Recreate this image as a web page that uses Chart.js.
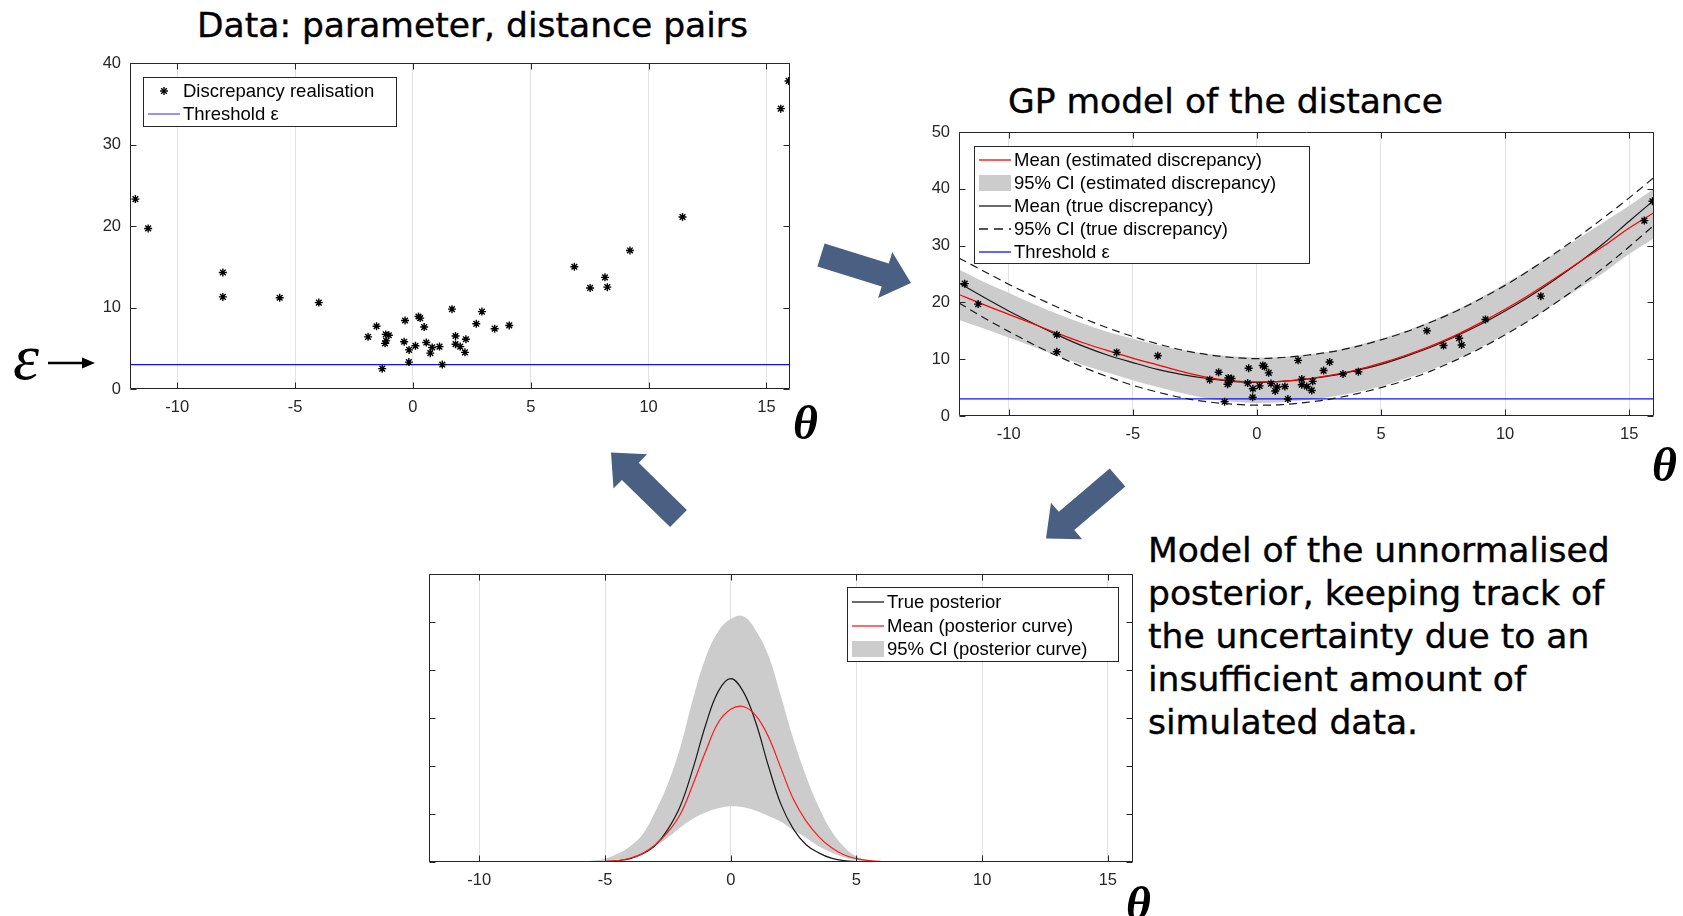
<!DOCTYPE html>
<html>
<head>
<meta charset="utf-8">
<script src="https://cdn.jsdelivr.net/npm/chart.js@4.4.1/dist/chart.umd.min.js"></script>
<style>
  html, body { margin: 0; padding: 0; background: #fff; }
  body { width: 1683px; height: 916px; position: relative; overflow: hidden; }
  .plot { position: absolute; }
  .heading { position: absolute; font-family: "DejaVu Sans", sans-serif; font-size: 34.5px; line-height: 43px; color: #000; white-space: nowrap; -webkit-text-stroke: 0.4px #000; }
  .para { position: absolute; font-family: "DejaVu Sans", sans-serif; font-size: 34.5px; line-height: 42.9px; color: #000; white-space: nowrap; -webkit-text-stroke: 0.4px #000; }
  .theta { position: absolute; font-family: "Liberation Serif", serif; font-style: italic; font-weight: bold; font-size: 48px; line-height: 48px; }
  .eps { position: absolute; font-family: "Liberation Serif", serif; font-style: italic; font-size: 66px; line-height: 66px; }
  .legend { position: absolute; box-sizing: border-box; background: #fff; border: 1px solid #262626;
            font-family: "Liberation Sans", Arial, sans-serif; font-size: 18.5px; color: #000; }
  .legend .row { position: absolute; left: 0; right: 0; height: 22px; }
  .legend .row span { position: absolute; left: 39px; top: 0; line-height: 22px; white-space: nowrap; }
  #overlay { position: absolute; left: 0; top: 0; pointer-events: none; }
</style>
</head>
<body>

<div class="heading" style="left:197px; top:4px;">Data: parameter, distance pairs</div>
<div class="heading" style="left:1008px; top:80px;">GP model of the distance</div>
<div class="para" style="left:1148px; top:529px;">Model of the unnormalised<br>posterior, keeping track of<br>the uncertainty due to an<br>insufficient amount of<br>simulated data.</div>

<div class="plot" style="left:70px; top:53px;"><canvas id="dataChart" width="730" height="376"></canvas></div>
<div class="plot" style="left:899px; top:122px;"><canvas id="gpChart" width="765" height="334"></canvas></div>
<div class="plot" style="left:369px; top:564px;"><canvas id="postChart" width="774" height="338"></canvas></div>

<div class="eps" style="left:13px; top:324px;">ε</div>
<div class="theta" style="left:793px; top:399px;">θ</div>
<div class="theta" style="left:1652px; top:441px;">θ</div>
<div class="theta" style="left:1126px; top:880px;">θ</div>

<svg id="overlay" width="1683" height="916"></svg>

<script>
// ---- data ----
const xMin = -12, xMax = 16;
const xTicks = [-10, -5, 0, 5, 10, 15];
const threshold = 3;

// simulated (theta, discrepancy) pairs
const obsTheta = [-11.77, -11.23, -8.06, -8.06, -5.65, -3.99, -1.90, -1.54, -1.30, -1.15, -1.02, -1.18, -1.13,
  -0.37, -0.33, -0.16, -0.17, 0.11, 0.24, 0.31, 0.48, 0.57, 0.74, 0.82, 1.13, 1.25, 1.66, 1.81, 1.81,
  2.01, 2.21, 2.25, 2.69, 2.93, 3.47, 4.09, 6.85, 7.52, 8.15, 8.25, 9.21, 11.44, 15.61, 15.94];
const obsDist = [23.3, 19.7, 14.3, 11.3, 11.2, 10.6, 6.4, 7.7, 2.5, 6.7, 6.6, 5.6, 5.9,
  5.8, 8.4, 4.8, 3.3, 5.3, 8.9, 8.7, 7.6, 5.7, 4.4, 5.1, 5.2, 3.0, 9.8, 6.5, 5.5,
  5.2, 4.5, 6.1, 8.0, 9.5, 7.4, 7.8, 15.0, 12.4, 13.7, 12.5, 17.0, 21.1, 34.4, 37.8];
const distTicks1 = [0, 10, 20, 30, 40];

// GP model of the distance
const gpTheta = [-12, -11, -10, -9, -8, -7, -6, -5, -4, -3, -2, -1, 0, 1, 2, 3, 4, 5, 6, 7, 8, 9, 10, 11, 12, 13, 14, 15, 16];
const estMean = [21.4, 19.6, 17.9, 16.2, 14.5, 12.9, 11.5, 10.2, 9.0, 7.8, 6.8, 6.2, 6.0, 6.1, 6.5, 7.2, 8.1, 9.3, 10.7, 12.3, 14.2, 16.4, 18.8, 21.4, 24.2, 27.1, 30.0, 33.1, 35.8];
const estUpper = [25.8, 23.6, 21.7, 19.7, 17.9, 16.3, 14.8, 13.6, 12.5, 11.6, 10.9, 10.5, 10.3, 10.4, 10.8, 11.4, 12.4, 13.6, 15.0, 16.7, 18.6, 20.8, 23.3, 25.9, 28.6, 31.4, 34.2, 37.0, 40.0];
const estLower = [16.9, 15.4, 13.8, 12.2, 10.5, 9.0, 7.6, 6.3, 5.1, 4.0, 3.1, 2.5, 2.3, 2.4, 2.8, 3.4, 4.2, 5.2, 6.6, 8.1, 9.9, 12.0, 14.4, 16.9, 19.7, 22.5, 25.3, 28.5, 31.3];
const trueMean = [23.4, 20.9, 18.5, 16.3, 14.2, 12.3, 10.7, 9.4, 8.2, 7.3, 6.6, 6.1, 5.9, 6.1, 6.5, 7.1, 8.0, 9.1, 10.5, 12.1, 14.0, 16.1, 18.5, 21.1, 24.0, 27.1, 30.5, 34.3, 38.0];
const trueUpper = [27.8, 25.5, 23.2, 21.1, 19.1, 17.2, 15.5, 14.0, 12.7, 11.6, 10.8, 10.3, 10.1, 10.3, 10.7, 11.3, 12.2, 13.4, 14.8, 16.5, 18.4, 20.6, 23.0, 25.7, 28.6, 31.7, 35.0, 38.4, 42.0];
const trueLower = [19.9, 17.3, 14.9, 12.6, 10.5, 8.6, 6.9, 5.4, 4.2, 3.2, 2.5, 2.1, 1.9, 2.0, 2.4, 3.0, 3.9, 5.0, 6.3, 7.9, 9.8, 11.9, 14.3, 16.9, 19.8, 22.9, 26.2, 29.8, 33.6];
const distTicks2 = [0, 10, 20, 30, 40, 50];

// unnormalised posterior
const postTheta = [-12, -6, -5.5, -5, -4.5, -4, -3.5, -3, -2.5, -2, -1.5, -1, -0.5, 0, 0.5, 1, 1.5, 2, 2.5, 3, 3.5, 4, 4.5, 5, 5.5, 6, 6.5, 16];
const postUpper = [0, 0.01, 0.03, 0.07, 0.17, 0.33, 0.58, 1.05, 1.63, 2.4, 3.4, 4.25, 4.8, 5.06, 5.12, 4.82, 4.3, 3.45, 2.55, 1.78, 1.15, 0.65, 0.32, 0.12, 0.04, 0.01, 0, 0];
const postLower = [0, 0, 0.01, 0.02, 0.05, 0.1, 0.19, 0.33, 0.51, 0.72, 0.9, 1.03, 1.12, 1.16, 1.14, 1.07, 0.96, 0.84, 0.66, 0.5, 0.33, 0.2, 0.1, 0.04, 0.01, 0, 0, 0];
const postTrue = [0, 0, 0, 0.01, 0.03, 0.07, 0.17, 0.35, 0.68, 1.17, 1.95, 2.85, 3.55, 3.82, 3.55, 2.9, 2.0, 1.2, 0.68, 0.36, 0.19, 0.08, 0.03, 0.01, 0, 0, 0, 0];
const postMean = [0, 0, 0, 0.01, 0.03, 0.08, 0.18, 0.36, 0.62, 1.0, 1.62, 2.3, 2.9, 3.18, 3.24, 3.05, 2.61, 1.95, 1.3, 0.85, 0.53, 0.3, 0.15, 0.07, 0.03, 0.01, 0, 0];
const postTicks = [0, 1, 2, 3, 4, 5, 6];

// ---- helpers ----
const pts = (xs, ys) => xs.map((x, i) => ({ x, y: ys[i] }));
const tickFont = { family: "Liberation Sans, Arial, sans-serif", size: 16.5 };

// MATLAB style box with inward ticks on all four sides
const matlabBox = {
  id: "matlabBox",
  afterDraw(chart) {
    const { ctx, chartArea: a, scales: { x, y } } = chart;
    const L = Math.round(a.left) + 0.5, R = Math.round(a.right) - 0.5;
    const T = Math.round(a.top) + 0.5, B = Math.round(a.bottom) - 0.5;
    ctx.save();
    ctx.strokeStyle = "#262626";
    ctx.lineWidth = 1;
    ctx.beginPath();
    ctx.rect(L, T, R - L, B - T);
    x.ticks.forEach(t => {
      const px = Math.round(x.getPixelForValue(t.value)) + 0.5;
      ctx.moveTo(px, B); ctx.lineTo(px, B - 6);
      ctx.moveTo(px, T); ctx.lineTo(px, T + 6);
    });
    y.ticks.forEach(t => {
      const py = Math.round(y.getPixelForValue(t.value)) + 0.5;
      ctx.moveTo(L, py); ctx.lineTo(L + 6, py);
      ctx.moveTo(R, py); ctx.lineTo(R - 6, py);
    });
    ctx.stroke();
    ctx.restore();
  }
};

function scales(yTicks, yMax, showY) {
  return {
    x: {
      type: "linear", min: xMin, max: xMax,
      afterBuildTicks: s => { s.ticks = xTicks.map(v => ({ value: v })); },
      afterFit: s => { s.height = 40; s.paddingLeft = 0; s.paddingRight = 0; },
      grid: { color: "#e2e2e2", drawTicks: false },
      border: { display: false },
      ticks: { padding: 9, color: "#262626", font: tickFont, maxRotation: 0, autoSkip: false }
    },
    y: {
      type: "linear", min: 0, max: yMax,
      afterBuildTicks: s => { s.ticks = yTicks.map(v => ({ value: v })); },
      afterFit: s => { s.width = 60; s.paddingTop = 0; s.paddingBottom = 0; },
      grid: { display: false, drawTicks: false },
      border: { display: false },
      ticks: { display: showY, padding: 9, color: "#262626", font: tickFont }
    }
  };
}

function baseOptions(yTicks, yMax, showY) {
  return {
    responsive: false,
    animation: false,
    devicePixelRatio: 1,
    layout: { padding: { top: 10, right: 10, left: 0, bottom: 0 } },
    plugins: { legend: { display: false }, tooltip: { enabled: false }, filler: { drawTime: "beforeDatasetsDraw" } },
    scales: scales(yTicks, yMax, showY)
  };
}

const starSet = {
  label: "Discrepancy realisation",
  data: pts(obsTheta, obsDist),
  pointStyle: "star", pointRadius: 4, borderColor: "#000", backgroundColor: "#000", borderWidth: 1.4, showLine: false
};
const line = (label, xs, ys, color, extra) => Object.assign({
  label, data: pts(xs, ys), showLine: true, pointRadius: 0, borderColor: color, borderWidth: 1.2,
  cubicInterpolationMode: "monotone", fill: false
}, extra || {});
const smooth = { cubicInterpolationMode: "default", tension: 0.4 };
const thresholdSet = () => line("Threshold ε", [xMin, xMax], [threshold, threshold], "#1010ff");

// ---- chart 1: data ----
new Chart(document.getElementById("dataChart"), {
  type: "scatter",
  data: { datasets: [Object.assign({}, starSet), thresholdSet()] },
  options: baseOptions(distTicks1, 40, true),
  plugins: [matlabBox]
});

// ---- chart 2: GP model ----
new Chart(document.getElementById("gpChart"), {
  type: "scatter",
  data: {
    datasets: [
      Object.assign({}, starSet),
      line("Mean (estimated discrepancy)", gpTheta, estMean, "#ff0000"),
      line("Mean (true discrepancy)", gpTheta, trueMean, "#1a1a1a"),
      line("95% CI (true discrepancy)", gpTheta, trueUpper, "#1a1a1a", { borderDash: [8, 5] }),
      line("95% CI (true discrepancy) lower", gpTheta, trueLower, "#1a1a1a", { borderDash: [8, 5] }),
      thresholdSet(),
      line("95% CI (estimated discrepancy)", gpTheta, estUpper, "rgba(0,0,0,0)", { fill: "+1", backgroundColor: "#cccccc" }),
      line("95% CI lower", gpTheta, estLower, "rgba(0,0,0,0)")
    ]
  },
  options: baseOptions(distTicks2, 50, true),
  plugins: [matlabBox]
});

// ---- chart 3: posterior ----
new Chart(document.getElementById("postChart"), {
  type: "scatter",
  data: {
    datasets: [
      line("Mean (posterior curve)", postTheta, postMean, "#ff1a1a", smooth),
      line("True posterior", postTheta, postTrue, "#1a1a1a", smooth),
      line("95% CI (posterior curve)", postTheta, postUpper, "rgba(0,0,0,0)", Object.assign({ fill: "+1", backgroundColor: "#cccccc" }, smooth)),
      line("95% CI lower", postTheta, postLower, "rgba(0,0,0,0)", smooth)
    ]
  },
  options: baseOptions(postTicks, 6, false),
  plugins: [matlabBox]
});

// ---- legends (boxed, inside plot) ----
function sample(kind, color) {
  let inner;
  if (kind === "patch") inner = '<rect x="0" y="3" width="32" height="16" fill="#cccccc"/>';
  else if (kind === "star") inner = '<g stroke="#000" stroke-width="1.4"><line x1="16" y1="7" x2="16" y2="15"/><line x1="12" y1="11" x2="20" y2="11"/>' +
    '<line x1="13.2" y1="8.2" x2="18.8" y2="13.8"/><line x1="13.2" y1="13.8" x2="18.8" y2="8.2"/></g>';
  else inner = '<line x1="0" y1="11" x2="32" y2="11" stroke="' + color + '" stroke-width="1.3"' +
    (kind === "dash" ? ' stroke-dasharray="9 6"' : "") + "/>";
  return '<svg width="32" height="22" style="position:absolute;left:4px;top:0">' + inner + "</svg>";
}
function legend(left, top, width, height, first, step, rows) {
  const box = document.createElement("div");
  box.className = "legend";
  Object.assign(box.style, { left: left + "px", top: top + "px", width: width + "px", height: height + "px" });
  rows.forEach((r, i) => {
    const row = document.createElement("div");
    row.className = "row";
    row.style.top = (first + i * step - 11) + "px";
    row.innerHTML = sample(r[0], r[1]) + "<span>" + r[2] + "</span>";
    box.appendChild(row);
  });
  document.body.appendChild(box);
}
legend(143, 77, 254, 50, 13, 22.5, [
  ["star", "#000", "Discrepancy realisation"],
  ["line", "#5a5aff", "Threshold ε"]
]);
legend(974, 146, 336, 118, 13, 23, [
  ["line", "#ff0000", "Mean (estimated discrepancy)"],
  ["patch", "", "95% CI (estimated discrepancy)"],
  ["line", "#1a1a1a", "Mean (true discrepancy)"],
  ["dash", "#1a1a1a", "95% CI (true discrepancy)"],
  ["line", "#1010ff", "Threshold ε"]
]);
legend(847, 587, 272, 75, 14, 23.5, [
  ["line", "#1a1a1a", "True posterior"],
  ["line", "#ff1a1a", "Mean (posterior curve)"],
  ["patch", "", "95% CI (posterior curve)"]
]);

// ---- block arrows and epsilon marker ----
function blockArrow(x0, y0, x1, y1) {
  const len = Math.hypot(x1 - x0, y1 - y0), ux = (x1 - x0) / len, uy = (y1 - y0) / len, nx = -uy, ny = ux;
  const sw = 12, hw = 24, hl = 27;
  const bx = x1 - ux * hl, by = y1 - uy * hl;
  return [[x0 + nx * sw, y0 + ny * sw], [bx + nx * sw, by + ny * sw], [bx + nx * hw, by + ny * hw], [x1, y1],
    [bx - nx * hw, by - ny * hw], [bx - nx * sw, by - ny * sw], [x0 - nx * sw, y0 - ny * sw]]
    .map(p => p[0].toFixed(1) + "," + p[1].toFixed(1)).join(" ");
}
const svg = document.getElementById("overlay");
svg.innerHTML =
  '<polygon fill="#4a6082" points="' + blockArrow(821, 255, 911, 283) + '"/>' +
  '<polygon fill="#4a6082" points="' + blockArrow(1117.5, 477.5, 1046, 538.5) + '"/>' +
  '<polygon fill="#4a6082" points="' + blockArrow(678.5, 518.5, 611, 452.5) + '"/>' +
  '<line x1="48" y1="363" x2="84" y2="363" stroke="#000" stroke-width="2.6"/>' +
  '<polygon fill="#000" points="82,357.5 95,363 82,368.5"/>';
</script>
</body>
</html>
